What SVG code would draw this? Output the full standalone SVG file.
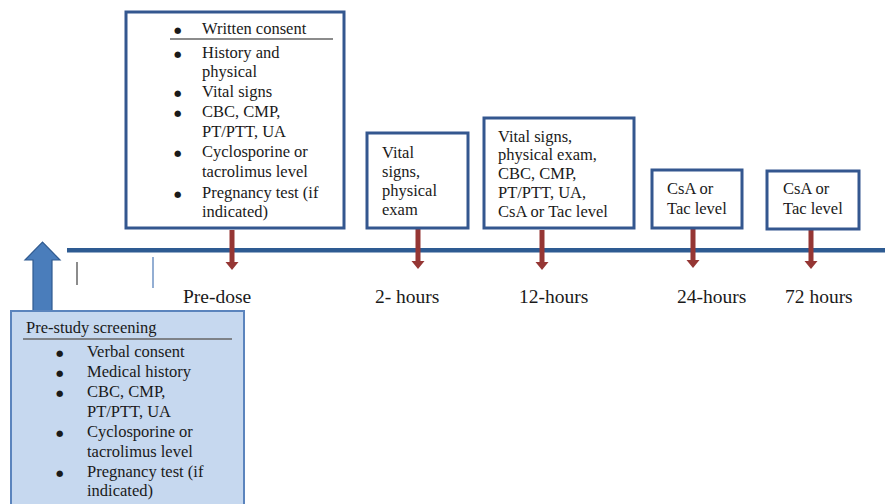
<svg xmlns="http://www.w3.org/2000/svg" width="885" height="504" viewBox="0 0 885 504">
<defs>
<style>
.box{fill:#fff;stroke:#34578f;stroke-width:3}
.t{font-family:'Liberation Serif','Times New Roman','DejaVu Serif',serif;font-size:16.5px;fill:#1a1a1a}
.lbl{font-family:'Liberation Serif','Times New Roman','DejaVu Serif',serif;font-size:19.5px;fill:#1a1a1a}
.b{font-size:8.5px;font-family:'DejaVu Sans',sans-serif}
.red{fill:#953634}
.ul{stroke:#666;stroke-width:1.3}
</style>
<g id="redarrow"><rect x="-2.5" y="0" width="5" height="33" class="red"/><polygon points="-6.5,32 6.5,32 0,40" class="red"/></g>
</defs>
<rect width="885" height="504" fill="#fff"/>
<g id="connectors">
<rect x="67" y="248" width="818" height="4.5" fill="#2e5b92"/>
<line x1="77" y1="262" x2="77" y2="285" stroke="#666" stroke-width="1.5"/>
<line x1="153" y1="257" x2="153" y2="288" stroke="#6f93c4" stroke-width="1.5"/>
<use href="#redarrow" x="232" y="230"/>
<use href="#redarrow" x="418" y="229"/>
<use href="#redarrow" x="542" y="230"/>
<use href="#redarrow" x="693" y="228"/>
<use href="#redarrow" x="811" y="229"/>
<polygon points="33,312 33,260 25,260 42.5,242 60,260 52,260 52,312" fill="#4a7dbb" stroke="#2f5a90" stroke-width="1.2"/>
</g>
<g id="predose">
<rect x="126" y="12" width="218" height="216" class="box"/>
<line x1="170" y1="39" x2="333" y2="39" class="ul"/>
<g class="t">
<text x="174" y="33" class="b">●</text><text x="202" y="34">Written consent</text>
<text x="174" y="56.5" class="b">●</text><text x="202" y="57.5">History and</text>
<text x="202" y="77">physical</text>
<text x="174" y="96" class="b">●</text><text x="202" y="97">Vital signs</text>
<text x="174" y="116" class="b">●</text><text x="202" y="117">CBC, CMP,</text>
<text x="202" y="136.5">PT/PTT, UA</text>
<text x="174" y="156" class="b">●</text><text x="202" y="157">Cyclosporine or</text>
<text x="202" y="177">tacrolimus level</text>
<text x="174" y="196.5" class="b">●</text><text x="202" y="197.5">Pregnancy test (if</text>
<text x="202" y="217">indicated)</text>
</g>
<text x="183" y="303" class="lbl">Pre-dose</text>
</g>
<g id="h2">
<rect x="367" y="133" width="101" height="95" class="box"/>
<g class="t">
<text x="382" y="158">Vital</text>
<text x="382" y="177">signs,</text>
<text x="382" y="196">physical</text>
<text x="382" y="215">exam</text>
</g>
<text x="375" y="303" class="lbl">2- hours</text>
</g>
<g id="h12">
<rect x="484" y="118" width="150" height="110" class="box"/>
<g class="t">
<text x="498" y="141.5">Vital signs,</text>
<text x="498" y="160">physical exam,</text>
<text x="498" y="179">CBC, CMP,</text>
<text x="498" y="198">PT/PTT, UA,</text>
<text x="498" y="217">CsA or Tac level</text>
</g>
<text x="519" y="303" class="lbl">12-hours</text>
</g>
<g id="h24">
<rect x="652" y="170" width="90" height="58" class="box"/>
<g class="t">
<text x="667" y="193.5">CsA or</text>
<text x="667" y="213.5">Tac level</text>
</g>
<text x="677" y="303" class="lbl">24-hours</text>
</g>
<g id="h72">
<rect x="767" y="171" width="92" height="58" class="box"/>
<g class="t">
<text x="783" y="194">CsA or</text>
<text x="783" y="214">Tac level</text>
</g>
<text x="785" y="303" class="lbl">72 hours</text>
</g>
<g id="prestudy">
<rect x="11" y="311" width="233" height="200" fill="#c6d8ef" stroke="#5b84bd" stroke-width="2"/>
<line x1="23" y1="339" x2="232" y2="339" class="ul"/>
<g class="t">
<text x="26" y="333">Pre-study screening</text>
<text x="56" y="356" class="b">●</text><text x="87" y="357">Verbal consent</text>
<text x="56" y="376" class="b">●</text><text x="87" y="377">Medical history</text>
<text x="56" y="396" class="b">●</text><text x="87" y="397">CBC, CMP,</text>
<text x="87" y="416.5">PT/PTT, UA</text>
<text x="56" y="436" class="b">●</text><text x="87" y="437">Cyclosporine or</text>
<text x="87" y="456.5">tacrolimus level</text>
<text x="56" y="476" class="b">●</text><text x="87" y="477">Pregnancy test (if</text>
<text x="87" y="496">indicated)</text>
</g>
</g>
</svg>
